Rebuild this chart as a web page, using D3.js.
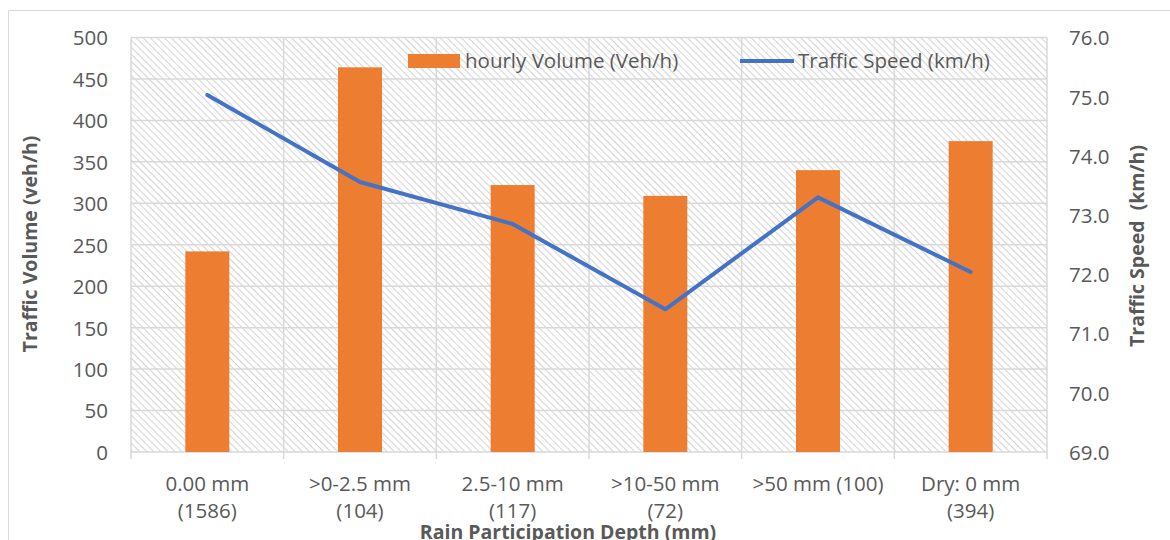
<!DOCTYPE html>
<html>
<head>
<meta charset="utf-8">
<script src="https://cdn.jsdelivr.net/npm/d3@7"></script>
<style>
  html, body { margin: 0; padding: 0; background: #fff; }
  svg { display: block; font-family: "Open Sans", "Liberation Sans", sans-serif; }
</style>
</head>
<body>
<svg id="chart" width="1170" height="540"></svg>
<script>
// Rain depth categories (line 1 / line 2 of each axis label)
const categories = ["0.00 mm", ">0-2.5 mm", "2.5-10 mm", ">10-50 mm", ">50 mm (100)", "Dry: 0 mm"];
const categorySub = ["(1586)", "(104)", "(117)", "(72)", "", "(394)"];

// Hourly traffic volume (veh/h) per category
const hourlyVolume = [242, 464, 322, 309, 340, 375];
// Mean traffic speed (km/h) per category
const trafficSpeed = [75.03, 73.56, 72.85, 71.41, 73.30, 72.04];

// Axis ticks
const volumeTicks = [0, 50, 100, 150, 200, 250, 300, 350, 400, 450, 500];
const speedTicks = [69, 70, 71, 72, 73, 74, 75, 76];

const svg = d3.select("#chart");
const plot = { left: 131, right: 1047, top: 37.5, bottom: 452 };

const x = d3.scaleBand().domain(categories).range([plot.left, plot.right]).paddingInner(0).paddingOuter(0);
const yL = d3.scaleLinear().domain([0, 500]).range([plot.bottom, plot.top]);
const yR = d3.scaleLinear().domain([69, 76]).range([plot.bottom, plot.top]);

const grid = "#d9d9d9";
const textCol = "#595959";
const fs = 20.5;

// Outer chart-area frame (left and top edges)
svg.append("path")
  .attr("d", "M8.5,540 L8.5,10.5 L1170,10.5")
  .attr("fill", "none").attr("stroke", grid).attr("stroke-width", 1);

// Diagonal hatch fill of the plot area
const defs = svg.append("defs");
const pat = defs.append("pattern")
  .attr("id", "hatch").attr("patternUnits", "userSpaceOnUse")
  .attr("width", 5).attr("height", 5)
  .attr("patternTransform", "rotate(45)");
pat.append("rect").attr("width", 5).attr("height", 5).attr("fill", "#fff");
pat.append("line").attr("x1", 0).attr("y1", 0).attr("x2", 5).attr("y2", 0)
  .attr("stroke", "#d6d6d6").attr("stroke-width", 2.2);

svg.append("rect")
  .attr("x", plot.left).attr("y", plot.top)
  .attr("width", plot.right - plot.left).attr("height", plot.bottom - plot.top)
  .attr("fill", "url(#hatch)");

// Horizontal gridlines
svg.append("g").selectAll("line").data(volumeTicks).join("line")
  .attr("x1", plot.left).attr("x2", plot.right)
  .attr("y1", d => yL(d)).attr("y2", d => yL(d))
  .attr("stroke", grid).attr("stroke-width", 1.5);

// Vertical gridlines at category boundaries, with tick marks below the axis
const bounds = categories.map(c => x(c)).concat([plot.right]);
svg.append("g").selectAll("line").data(bounds).join("line")
  .attr("x1", d => d).attr("x2", d => d)
  .attr("y1", plot.top).attr("y2", plot.bottom + 7)
  .attr("stroke", grid).attr("stroke-width", 1.5);

// Volume bars
const barW = 44;
svg.append("g").selectAll("rect").data(hourlyVolume).join("rect")
  .attr("x", (d, i) => x(categories[i]) + x.bandwidth() / 2 - barW / 2)
  .attr("width", barW)
  .attr("y", d => yL(d))
  .attr("height", d => yL(0) - yL(d))
  .attr("fill", "#ed7d31");

// Speed line
const line = d3.line()
  .x((d, i) => x(categories[i]) + x.bandwidth() / 2)
  .y(d => yR(d));
svg.append("path").datum(trafficSpeed)
  .attr("d", line)
  .attr("fill", "none").attr("stroke", "#4472c4")
  .attr("stroke-width", 4).attr("stroke-linejoin", "round").attr("stroke-linecap", "round");

// Left axis labels
const yAxisL = d3.axisLeft(yL).tickValues(volumeTicks).tickSize(0).tickPadding(0);
const gL = svg.append("g").attr("transform", "translate(108,0)").call(yAxisL);
gL.select(".domain").remove();
gL.selectAll("text").attr("font-size", fs).attr("fill", textCol)
  .attr("font-family", "Open Sans, sans-serif").attr("dy", "0.36em");

// Right axis labels
const yAxisR = d3.axisRight(yR).tickValues(speedTicks).tickFormat(d3.format(".1f")).tickSize(0).tickPadding(0);
const gR = svg.append("g").attr("transform", "translate(1069,0)").call(yAxisR);
gR.select(".domain").remove();
gR.selectAll("text").attr("font-size", fs).attr("fill", textCol)
  .attr("font-family", "Open Sans, sans-serif").attr("dy", "0.36em");

// Category labels (two lines)
const xl = svg.append("g");
categories.forEach((c, i) => {
  const cx = x(c) + x.bandwidth() / 2;
  xl.append("text").attr("x", cx).attr("y", 491).attr("text-anchor", "middle")
    .attr("font-size", fs).attr("fill", textCol).text(c);
  if (categorySub[i]) {
    xl.append("text").attr("x", cx).attr("y", 518).attr("text-anchor", "middle")
      .attr("font-size", fs).attr("fill", textCol).text(categorySub[i]);
  }
});

// Axis titles
svg.append("text")
  .attr("transform", "translate(37,244) rotate(-90)")
  .attr("text-anchor", "middle").attr("font-size", 19.5).attr("font-weight", "bold")
  .attr("fill", textCol).text("Traffic Volume (veh/h)");

svg.append("text")
  .attr("transform", "translate(1144,246) rotate(-90)")
  .attr("text-anchor", "middle").attr("font-size", 19.5).attr("font-weight", "bold")
  .attr("fill", textCol).attr("xml:space", "preserve").text("Traffic Speed  (km/h)");

svg.append("text")
  .attr("x", 568).attr("y", 539).attr("text-anchor", "middle")
  .attr("font-size", 19.5).attr("font-weight", "bold")
  .attr("fill", textCol).text("Rain Participation Depth (mm)");

// Legend
const lg = svg.append("g");
lg.append("rect").attr("x", 408).attr("y", 54).attr("width", 52).attr("height", 14).attr("fill", "#ed7d31");
lg.append("text").attr("x", 465).attr("y", 68).attr("font-size", fs).attr("fill", textCol)
  .text("hourly Volume (Veh/h)");
lg.append("line").attr("x1", 740).attr("x2", 794).attr("y1", 61).attr("y2", 61)
  .attr("stroke", "#4472c4").attr("stroke-width", 4);
lg.append("text").attr("x", 798).attr("y", 68).attr("font-size", fs).attr("fill", textCol)
  .text("Traffic Speed (km/h)");
</script>
</body>
</html>
